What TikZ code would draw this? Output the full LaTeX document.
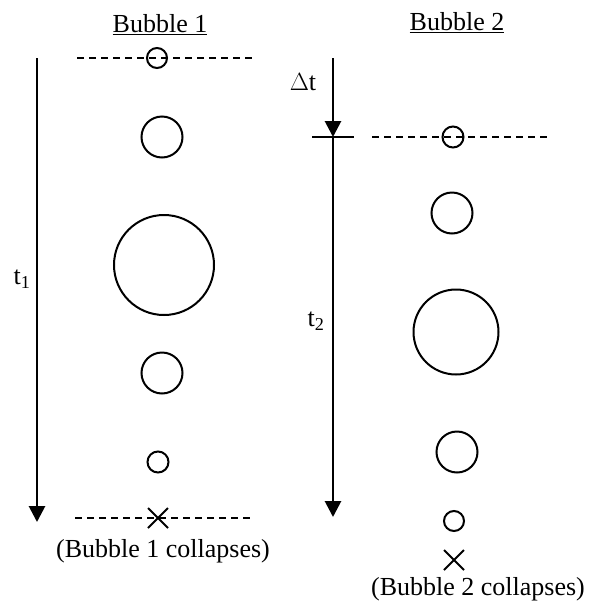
\documentclass[tikz,border=0pt]{standalone}
\usepackage{fontspec}
\setmainfont{Liberation Serif}
\usetikzlibrary{arrows.meta}
\begin{document}
\begin{tikzpicture}[x=1pt,y=-1pt,
  bub/.style={draw,circle,line width=2pt,inner sep=0pt},
  guide/.style={line width=2pt,dash pattern=on 7pt off 5pt},
  timearrow/.style={line width=2.8pt,-{Triangle[width=16pt,length=16pt]}},
  lbl/.style={font=\fontsize{26}{30}\selectfont,inner sep=0pt},
  cross/.style={line width=2pt}]
\useasboundingbox (0,0) rectangle (597,606);
% ---- Bubble 1 ----
\node[lbl] (title1) at (160,25) {\underline{Bubble 1}};
\coordinate (a1s) at (37,58);
\coordinate (a1e) at (37,522);
\draw[timearrow] (a1s) -- (a1e);
\node[lbl] (t1) at (22,279) {t\textsubscript{1}};
\coordinate (d1l) at (77,58);
\coordinate (d1r) at (252,58);
\draw[guide] (d1l) -- (d1r);
\node[bub,minimum size=20pt] (b11) at (157,58) {};
\node[bub,minimum size=41pt] (b12) at (162,137) {};
\node[bub,minimum size=100pt] (b13) at (164,265) {};
\node[bub,minimum size=41pt] (b14) at (162,373) {};
\node[bub,minimum size=21pt] (b15) at (158,462) {};
\coordinate (d2l) at (75,518);
\coordinate (d2r) at (250,518);
\draw[guide] (d2l) -- (d2r);
\coordinate (x1) at (158,518);
\draw[cross] ([shift={(-10,-10)}]x1) -- ([shift={(10,10)}]x1)
             ([shift={(-10,10)}]x1) -- ([shift={(10,-10)}]x1);
\node[lbl] (c1) at (163,551) {(Bubble 1 collapses)};
% ---- Bubble 2 ----
\node[lbl] (title2) at (457,23) {\underline{Bubble 2}};
\coordinate (a2s) at (333,58);
\coordinate (a2m) at (333,137);
\coordinate (a2e) at (333,517);
\draw[timearrow] (a2s) -- (a2m);
\draw[timearrow] (a2m) -- (a2e);
\coordinate (tkl) at (312,137);
\coordinate (tkr) at (354,137);
\draw[line width=2.8pt] (tkl) -- (tkr);
\node[lbl] (dt) at (303,82) {$\Delta$t};
\node[lbl] (t2) at (316,321) {t\textsubscript{2}};
\coordinate (d3l) at (372,137);
\coordinate (d3r) at (547,137);
\draw[guide] (d3l) -- (d3r);
\node[bub,minimum size=21pt] (b21) at (453,137) {};
\node[bub,minimum size=41pt] (b22) at (452,213) {};
\node[bub,minimum size=85pt] (b23) at (456,332) {};
\node[bub,minimum size=41pt] (b24) at (457,452) {};
\node[bub,minimum size=20pt] (b25) at (454,521) {};
\coordinate (x2) at (454,560);
\draw[cross] ([shift={(-10,-10)}]x2) -- ([shift={(10,10)}]x2)
             ([shift={(-10,10)}]x2) -- ([shift={(10,-10)}]x2);
\node[lbl] (c2) at (478,589) {(Bubble 2 collapses)};
\end{tikzpicture}
\end{document}
